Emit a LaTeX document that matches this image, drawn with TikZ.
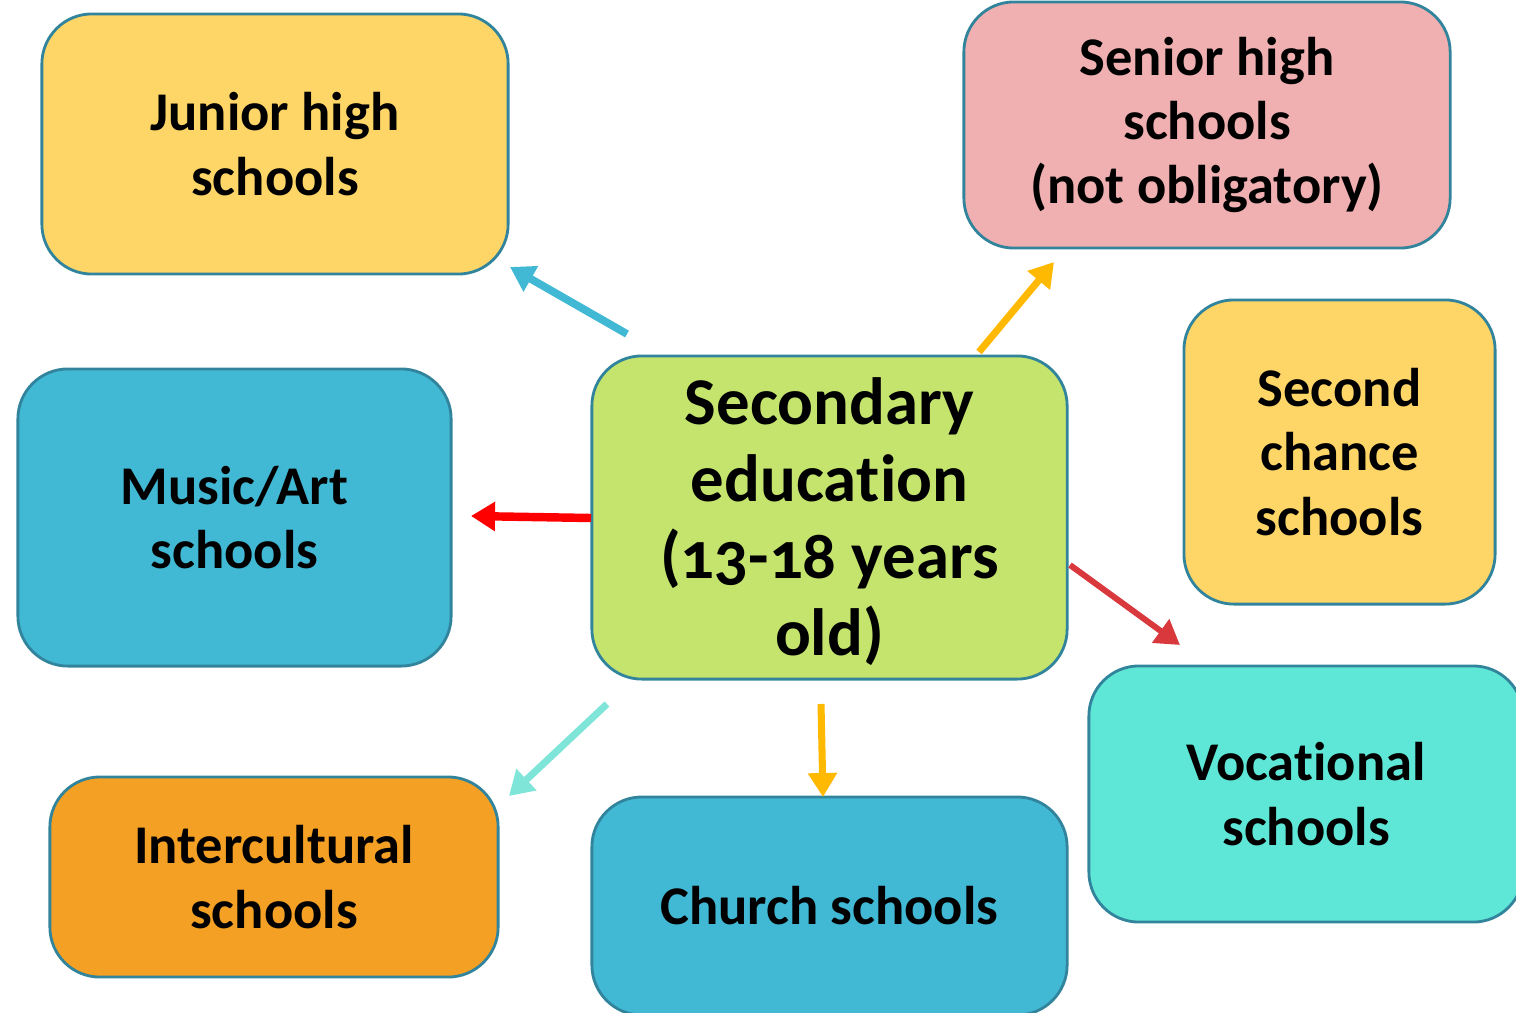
\documentclass[tikz,border=0pt]{standalone}
\usepackage{fontspec}
\setmainfont{Carlito}[Numbers=OldStyle, Ligatures=NoCommon]
\usetikzlibrary{arrows.meta}

\definecolor{boxline}{HTML}{31849B}
\definecolor{sunyellow}{HTML}{FED567}
\definecolor{rosepink}{HTML}{F0AFB0}
\definecolor{skyblue}{HTML}{41B8D4}
\definecolor{limegreen}{HTML}{C4E46E}
\definecolor{aquamint}{HTML}{5EE6D6}
\definecolor{orangebox}{HTML}{F4A024}
\definecolor{arrowgold}{HTML}{FFB900}
\definecolor{arrowred}{HTML}{FF0000}
\definecolor{arrowdeep}{HTML}{D9393D}
\definecolor{arrowmint}{HTML}{7FE5D8}

\begin{document}
\begin{tikzpicture}[
  x=0.01cm, y=-0.01cm,
  school/.style={draw=boxline, line width=0.8pt, rounded corners=0.5cm,
    align=center, inner sep=0pt,
    font=\bfseries\fontsize{15.5}{18.3}\selectfont},
  hub/.style={school, font=\bfseries\fontsize{19}{21.9}\selectfont},
  pointer/.style={line width=2.2pt, -{Triangle[length=0.24cm,width=0.28cm]}}
]
\useasboundingbox (0,0) rectangle (1516,1012);

% Centre node
\node[hub, fill=limegreen, minimum width=4.75cm, minimum height=3.23cm]
  (secondary) at (829.5,517.5) {\raisebox{-0.07cm}[\height][\depth]{%
    \begin{tabular}{@{}c@{}}Secondary\\educa\kern0pt tion\\(13-18 years\\old)\end{tabular}}};

% Surrounding schools
\node[school, fill=sunyellow, minimum width=4.66cm, minimum height=2.6cm]
  (junior) at (275,144) {Junior high\\schools};
\node[school, fill=rosepink, minimum width=4.86cm, minimum height=2.46cm]
  (senior) at (1207,125) {Senior high\\schools\\(not obligatory)};
\node[school, fill=sunyellow, minimum width=3.11cm, minimum height=3.04cm]
  (secondchance) at (1339.5,452) {Second\\chance\\schools};
\node[school, fill=skyblue, minimum width=4.33cm, minimum height=2.97cm]
  (musicart) at (234.5,517.5) {Music/Art\\schools};
\node[school, fill=aquamint, minimum width=4.34cm, minimum height=2.56cm]
  (vocational) at (1306,794) {Vocational\\schools};
\node[school, fill=orangebox, minimum width=4.48cm, minimum height=2cm]
  (intercultural) at (274,877) {Intercultural\\schools};
\node[school, fill=skyblue, minimum width=4.75cm, minimum height=2.18cm]
  (church) at (829.5,906) {Church schools};

% Arrow ends
\coordinate (juniorS) at (627,334);   \coordinate (juniorE) at (510,267);
\coordinate (seniorS) at (979,352);   \coordinate (seniorE) at (1054,262);
\coordinate (musicS) at (591,518);    \coordinate (musicE) at (471,516);
\coordinate (vocS) at (1070,565);     \coordinate (vocE) at (1180,645);
\coordinate (interS) at (607,704);    \coordinate (interE) at (509,796);
\coordinate (churchS) at (821,704);   \coordinate (churchE) at (823,797);

\draw[pointer, skyblue] (juniorS) -- (juniorE);
\draw[pointer, arrowgold, line width=2pt] (seniorS) -- (seniorE);
\draw[pointer, arrowred, line width=2.4pt] (musicS) -- (musicE);
\draw[pointer, arrowdeep, line width=1.7pt] (vocS) -- (vocE);
\draw[pointer, arrowmint, line width=2pt] (interS) -- (interE);
\draw[pointer, arrowgold, line width=2pt] (churchS) -- (churchE);

\end{tikzpicture}
\end{document}
